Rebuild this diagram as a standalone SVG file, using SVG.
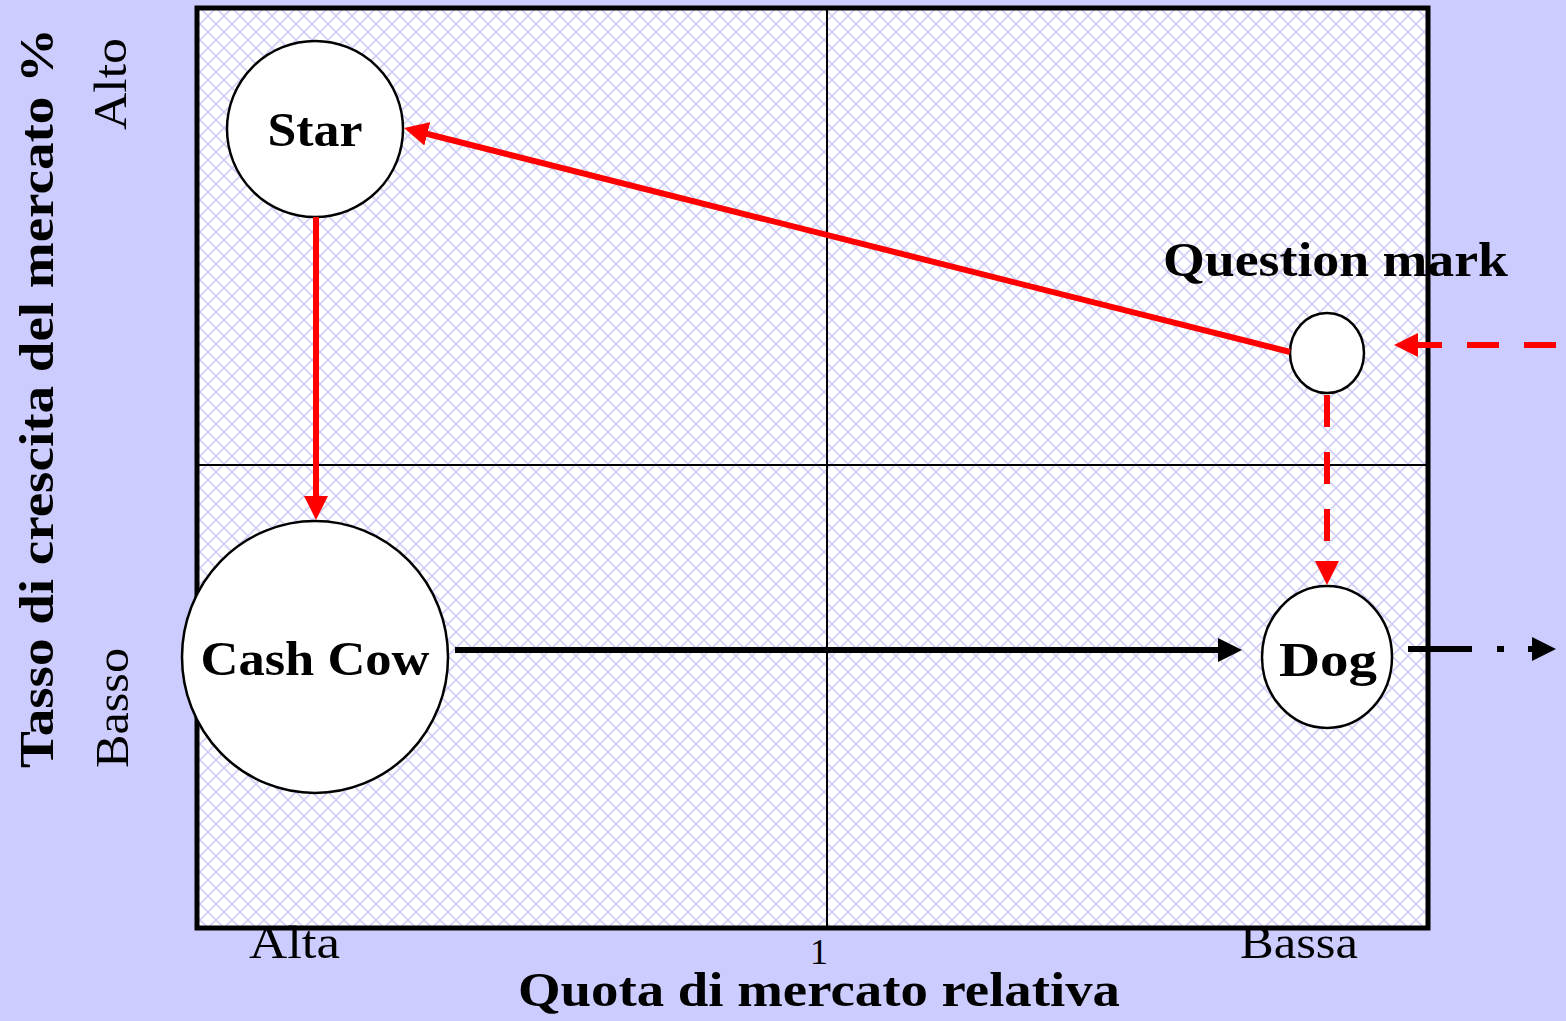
<svg xmlns="http://www.w3.org/2000/svg" width="1566" height="1021" viewBox="0 0 1566 1021">
<defs>
<pattern id="hatch" width="16" height="16" patternUnits="userSpaceOnUse">
<rect width="16" height="16" fill="#ffffff"/>
<path d="M-1,1 L1,-1 M0,16 L16,0 M15,17 L17,15 M-1,15 L1,17 M0,0 L16,16 M15,-1 L17,1" stroke="#d0d0f6" stroke-width="1.6"/>
</pattern>
<marker id="ar" viewBox="0 0 24 24" refX="16" refY="12" markerWidth="24" markerHeight="24" markerUnits="userSpaceOnUse" orient="auto">
<path d="M0,0 L24,12 L0,24 z" fill="#ff0000"/>
</marker>
<marker id="ab" viewBox="0 0 24 24" refX="16" refY="12" markerWidth="24" markerHeight="24" markerUnits="userSpaceOnUse" orient="auto">
<path d="M0,0 L24,12 L0,24 z" fill="#000000"/>
</marker>
</defs>
<style>
.node{fill:#ffffff;stroke:#000000;stroke-width:2.5}
.lbl{font-family:"Liberation Serif",serif;font-weight:bold;font-size:48px;fill:#000;text-anchor:middle}
.ax{font-family:"Liberation Serif",serif;font-size:46px;fill:#000;text-anchor:middle}
.red{stroke:#ff0000;stroke-width:6;fill:none}
.blk{stroke:#000000;stroke-width:6;fill:none}
</style>
<rect x="0" y="0" width="1566" height="1021" fill="#ccccff"/>
<g id="matrix">
<rect x="197" y="8" width="1231" height="920" fill="url(#hatch)" stroke="#000" stroke-width="5"/>
<line x1="827" y1="8" x2="827" y2="928" stroke="#000" stroke-width="2"/>
<line x1="197" y1="465" x2="1428" y2="465" stroke="#000" stroke-width="2"/>
</g>
<g id="axes">
<text class="lbl" transform="translate(53,398) rotate(-90)" textLength="740" lengthAdjust="spacingAndGlyphs">Tasso di crescita del mercato %</text>
<text class="ax" transform="translate(126,84) rotate(-90)" textLength="92" lengthAdjust="spacingAndGlyphs">Alto</text>
<text class="ax" transform="translate(128,708) rotate(-90)" textLength="120" lengthAdjust="spacingAndGlyphs">Basso</text>
<text class="ax" x="294.5" y="958" textLength="91" lengthAdjust="spacingAndGlyphs">Alta</text>
<text class="ax" x="1299" y="958" textLength="118" lengthAdjust="spacingAndGlyphs">Bassa</text>
<text class="ax" x="819" y="964" style="font-size:36px">1</text>
<text class="lbl" x="819" y="1006" textLength="602" lengthAdjust="spacingAndGlyphs">Quota di mercato relativa</text>
</g>
<g id="star">
<circle class="node" cx="315" cy="129" r="88"/>
<text class="lbl" x="315" y="146" textLength="95" lengthAdjust="spacingAndGlyphs">Star</text>
</g>
<g id="cashcow">
<ellipse class="node" cx="315" cy="657" rx="133" ry="136"/>
<text class="lbl" x="315" y="675" textLength="229" lengthAdjust="spacingAndGlyphs">Cash Cow</text>
</g>
<g id="questionmark">
<ellipse class="node" cx="1327" cy="353" rx="37" ry="40"/>
<text class="lbl" x="1335.5" y="276" textLength="345" lengthAdjust="spacingAndGlyphs">Question mark</text>
</g>
<g id="dog">
<ellipse class="node" cx="1327" cy="657" rx="65" ry="71"/>
<text class="lbl" x="1328" y="676" textLength="98" lengthAdjust="spacingAndGlyphs">Dog</text>
</g>
<g id="connectors">
<line class="red" x1="316" y1="217" x2="316" y2="512" marker-end="url(#ar)"/>
<line class="red" x1="1290" y1="352" x2="411.8" y2="130" marker-end="url(#ar)"/>
<line class="red" x1="1327" y1="395" x2="1327" y2="577" stroke-dasharray="32 25" marker-end="url(#ar)"/>
<line class="red" x1="1556" y1="345" x2="1402" y2="345" stroke-dasharray="32 25" marker-end="url(#ar)"/>
<line class="blk" x1="455" y1="650" x2="1234" y2="650" marker-end="url(#ab)"/>
<line class="blk" x1="1408" y1="649" x2="1548" y2="649" stroke-width="7" stroke-dasharray="64 25 7 24" marker-end="url(#ab)"/>
</g>
</svg>
